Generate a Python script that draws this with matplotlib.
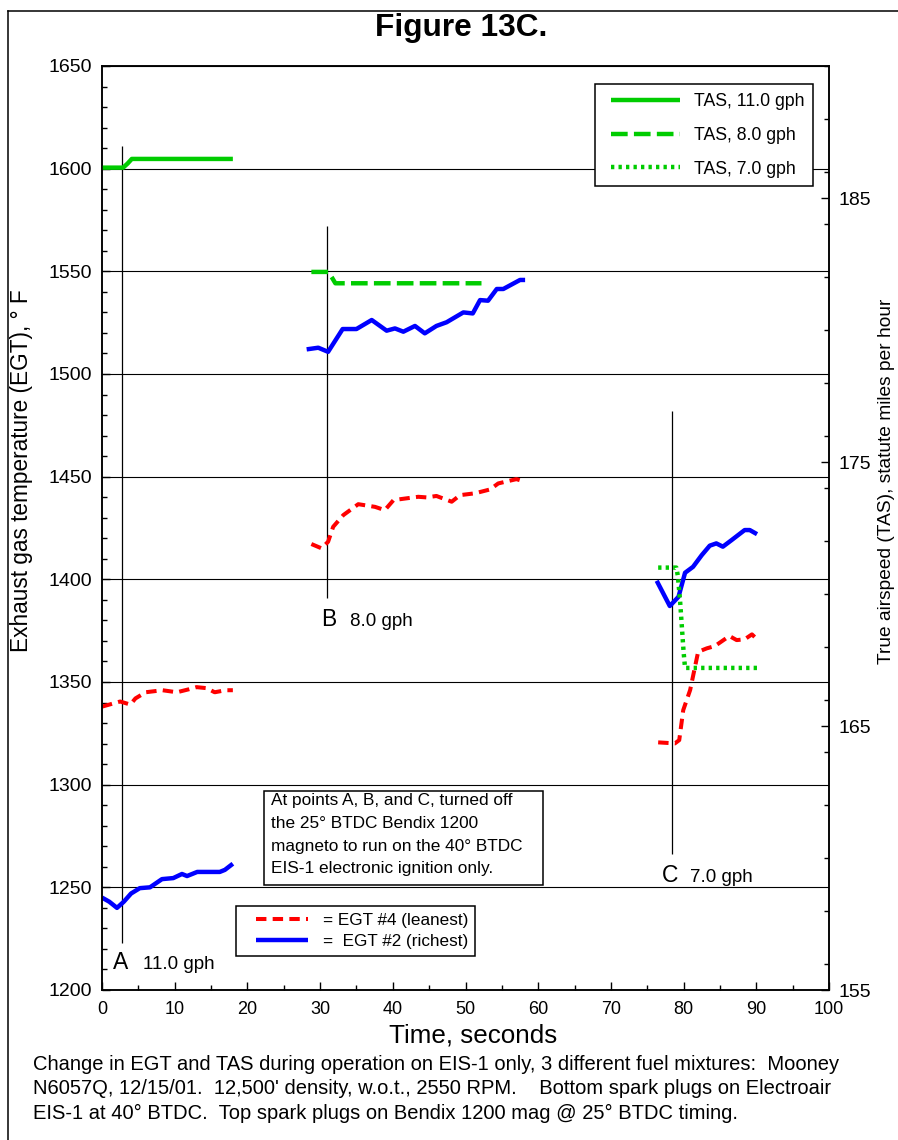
import matplotlib
matplotlib.use('Agg')
import matplotlib.pyplot as plt
from matplotlib.ticker import MultipleLocator
from matplotlib.legend_handler import HandlerLine2D
from matplotlib.lines import Line2D
from matplotlib.patches import Rectangle

plt.rcParams['font.family'] = ['Liberation Sans', 'DejaVu Sans']
plt.rcParams['lines.scale_dashes'] = False

# ---------------- data ----------------
# EGT #2 (richest), blue
egt2_a_t = [0, 1, 2.06, 3, 4, 5.2, 6.6, 8.25, 9.8, 11, 11.7, 13.1, 16.2, 16.9, 18]
egt2_a = [1245, 1243, 1240, 1243, 1247, 1249.6, 1250, 1254, 1254.5, 1256.5, 1255.5, 1257.5, 1257.5, 1258.5, 1261.5]
egt2_b_t = [28.15, 29.75, 31.1, 33.1, 35.0, 37.1, 39.15, 40.3, 41.45, 43.05, 44.4, 46.0, 47.4,
            49.7, 51.0, 52.0, 53.1, 54.3, 55.2, 57.5, 58.2]
egt2_b = [1512, 1512.8, 1510.8, 1521.9, 1521.9, 1526.3, 1521.1, 1522.2, 1520.6, 1523.4, 1519.8,
          1523.4, 1525.2, 1530.0, 1529.5, 1536, 1535.7, 1541.4, 1541.4, 1545.8, 1545.8]
egt2_c_t = [76.3, 78.1, 79.3, 80.2, 81.3, 82.5, 83.6, 84.5, 85.4, 86.6, 88.4, 89.1, 90.1]
egt2_c = [1399.3, 1387, 1391.5, 1403.2, 1406.1, 1411.8, 1416.4, 1417.5, 1415.9, 1419.1, 1424.0, 1424.0, 1422]

# EGT #4 (leanest), red
egt4_a_t = [0, 2.5, 3.9, 4.6, 6, 8.3, 10.3, 12, 13, 14.4, 15.5, 17, 18]
egt4_a = [1338, 1340.5, 1339, 1342, 1345, 1346, 1345, 1346.5, 1347.5, 1347, 1345, 1346, 1346]
egt4_b_t = [28.8, 30.2, 31.1, 31.8, 33.2, 35.25, 37.55, 38.9, 40.1, 43.5, 44.65, 46.0, 48.1,
            49.25, 51.3, 53.4, 54.5, 57.0, 58.2]
egt4_b = [1417.2, 1415.1, 1418.3, 1425.6, 1431.3, 1436.6, 1435.3, 1433.7, 1438.6, 1440.2, 1439.9,
          1440.6, 1437.8, 1441.0, 1441.9, 1443.8, 1446.7, 1448.8, 1447.5]
egt4_c_t = [76.5, 78.8, 79.4, 79.95, 80.9, 82.0, 83.2, 84.3, 86.3, 87.3, 88.4, 89.4, 90.3]
egt4_c = [1320.6, 1320.1, 1321.7, 1336.3, 1346.1, 1364.7, 1366.4, 1367.5, 1372.4, 1370.4, 1370.8, 1373.2, 1370.1]

# TAS (right axis, mph)
tas11_t = [0, 1, 2, 2.9, 3.5, 4.1, 6, 8, 10, 12, 14, 16, 18]
tas11 = [186.15, 186.15, 186.15, 186.15, 186.3, 186.48, 186.48, 186.48, 186.48, 186.48, 186.48, 186.48, 186.48]
tas8_t = [28.8, 30, 31.1, 31.6, 32.1, 35, 40, 45, 50, 52.2]
tas8 = [182.2, 182.2, 182.2, 182.0, 181.77, 181.77, 181.77, 181.77, 181.77, 181.77]
tas7_t = [76.5, 77.5, 79.0, 79.2, 79.5, 79.8, 80.0, 80.2, 81.5, 84, 86, 88, 90.3]
tas7 = [171.0, 171.0, 171.0, 170.7, 169.8, 168.6, 167.8, 167.2, 167.2, 167.2, 167.2, 167.2, 167.2]

# event markers A, B, C
marker_t = [2.8, 31.0, 78.45]
marker_lo = [1223, 1391, 1266]
marker_hi = [1611, 1572, 1482]
marker_letters = ['A', 'B', 'C']
marker_rates = ['11.0 gph', '8.0 gph', '7.0 gph']

tas_labels = ['TAS, 11.0 gph', 'TAS, 8.0 gph', 'TAS, 7.0 gph']
egt_labels = ['= EGT #4 (leanest)', '=  EGT #2 (richest)']

note_lines = ['At points A, B, and C, turned off',
              'the 25\u00b0 BTDC Bendix 1200',
              'magneto to run on the 40\u00b0 BTDC',
              'EIS-1 electronic ignition only.']
caption_lines = [
    'Change in EGT and TAS during operation on EIS-1 only, 3 different fuel mixtures:  Mooney',
    "N6057Q, 12/15/01.  12,500' density, w.o.t., 2550 RPM.    Bottom spark plugs on Electroair",
    'EIS-1 at 40\u00b0 BTDC.  Top spark plugs on Bendix 1200 mag @ 25\u00b0 BTDC timing.',
]

# ---------------- layout ----------------
W, H = 898, 1140
L, R, T, B = 102, 829, 66, 990


def fx(p):
    return p / W


def fy(p):
    return 1 - p / H


def axx(p):
    return (p - L) / (R - L)


def axy(p):
    return (B - p) / (B - T)


fig = plt.figure(figsize=(W / 100, H / 100), dpi=100)
ax = fig.add_axes([fx(L), fy(B), (R - L) / W, (B - T) / H])
ax2 = ax.twinx()

RED = '#ff0000'
BLUE = '#0000ff'
GREEN = '#00cc00'

ax.set_xlim(0, 100)
ax.set_ylim(1200, 1650)
ax2.set_ylim(155, 190)

ax.xaxis.set_major_locator(MultipleLocator(10))
ax.xaxis.set_minor_locator(MultipleLocator(5))
ax.yaxis.set_major_locator(MultipleLocator(50))
ax.yaxis.set_minor_locator(MultipleLocator(10))
ax2.set_yticks([155, 165, 175, 185])
ax2.yaxis.set_minor_locator(MultipleLocator(2))

ax.yaxis.grid(True, which='major', color='black', lw=0.8)

for a in (ax, ax2):
    for s in a.spines.values():
        s.set_linewidth(1.1)

ax.tick_params(axis='both', which='both', direction='in', top=False, right=False, width=1)
ax.tick_params(which='major', length=6)
ax.tick_params(which='minor', length=3.6)
ax.tick_params(axis='y', labelsize=14, pad=7)
ax.tick_params(axis='x', labelsize=13, pad=8)
ax2.tick_params(axis='y', which='both', direction='in', width=1, labelsize=14, pad=6.5)
ax2.tick_params(axis='y', which='major', length=6)
ax2.tick_params(axis='y', which='minor', length=3.6)

# markers
ax.vlines(marker_t, marker_lo, marker_hi, color='black', lw=0.9)

# EGT lines
red_ls = (0, (7.5, 4.5))
red_kw = dict(color=RED, lw=2.9, linestyle=red_ls, dash_capstyle='butt')
blue_kw = dict(color=BLUE, lw=3.2, solid_capstyle='butt', solid_joinstyle='round')
r1, = ax.plot(egt4_a_t, egt4_a, **red_kw)
ax.plot(egt4_b_t, egt4_b, **red_kw)
ax.plot(egt4_c_t, egt4_c, **red_kw)
b1, = ax.plot(egt2_a_t, egt2_a, **blue_kw)
ax.plot(egt2_b_t, egt2_b, **blue_kw)
ax.plot(egt2_c_t, egt2_c, **blue_kw)

# TAS lines
g11, = ax2.plot(tas11_t, tas11, color=GREEN, lw=3.2, solid_capstyle='butt')
g8, = ax2.plot(tas8_t, tas8, color=GREEN, lw=3.2, linestyle=(0, (12, 4.5)), dash_capstyle='butt')
g7, = ax2.plot(tas7_t, tas7, color=GREEN, lw=3.2, linestyle=(0, (2.4, 3.0)), dash_capstyle='butt')

# marker labels
letter_pos = [(1.51, 1210.2, 5.64), (30.12, 1377.3, 34.1), (77.03, 1252.6, 80.9)]
for (lx, ly, rx), letter, rate in zip(letter_pos, marker_letters, marker_rates):
    ax.text(lx, ly, letter, fontsize=16.5, va='baseline', ha='left')
    ax.text(rx, ly, rate, fontsize=13.5, va='baseline', ha='left')

# legends
fs1 = 12.7
fpx1 = fs1 * 100 / 72
bp1 = 8.9
mp1 = 608 - 592 - bp1
leg_tas = ax2.legend([g11, g8, g7], tas_labels, loc='upper right',
                     bbox_to_anchor=(axx(813.3), axy(84)), bbox_transform=ax2.transAxes,
                     borderaxespad=0, fancybox=False, edgecolor='black', framealpha=1,
                     fontsize=fs1, numpoints=2, borderpad=bp1 / fpx1,
                     handlelength=(69 + 2 * mp1) / fpx1,
                     handletextpad=(691 - 677 - mp1) / fpx1,
                     labelspacing=(33.5 - 16.7) / fpx1, handleheight=0.7,
                     handler_map={Line2D: HandlerLine2D(marker_pad=mp1 / fpx1)})
leg_tas.get_frame().set_linewidth(1.1)
ax2.add_artist(leg_tas)

fs2 = 12.3
fpx2 = fs2 * 100 / 72
bp2 = 6.5
mp2 = 256 - 236 - bp2
leg_egt = ax2.legend([r1, b1], egt_labels, loc='upper left',
                     bbox_to_anchor=(axx(236), axy(906)), bbox_transform=ax2.transAxes,
                     borderaxespad=0, fancybox=False, edgecolor='black', framealpha=1,
                     fontsize=fs2, numpoints=2, borderpad=bp2 / fpx2,
                     handlelength=(52 + 2 * mp2) / fpx2,
                     handletextpad=max(0.0, (323 - 308 - mp2) / fpx2),
                     labelspacing=(21 - 14.5) / fpx2, handleheight=0.7,
                     handler_map={Line2D: HandlerLine2D(marker_pad=mp2 / fpx2)})
leg_egt.get_frame().set_linewidth(1.1)

# note box
ax2.add_patch(Rectangle((axx(264.3), axy(885.3)), axx(543.3) - axx(264.3), axy(790.7) - axy(885.3),
                        transform=ax2.transAxes, fc='white', ec='black', lw=1.1, zorder=4))
for yb, line in zip([805, 827.5, 850.5, 873.3], note_lines):
    ax2.text(axx(270.7), axy(yb), line, transform=ax2.transAxes, fontsize=12.4,
             va='baseline', ha='left', zorder=5)

# axis labels
ax.set_xlabel('Time, seconds', fontsize=18.7, va='center')
ax.xaxis.set_label_coords(axx(473), axy(1036))
ax.set_ylabel('Exhaust gas temperature (EGT), \u00b0 F', fontsize=16.3, va='center', ha='center')
ax.yaxis.set_label_coords(axx(22), axy(471))
ax2.set_ylabel('True airspeed (TAS), statute miles per hour', fontsize=13.8, rotation=90,
               va='center', ha='center')
ax2.yaxis.set_label_coords(axx(886.5), axy(481))

# title
fig.text(fx(461.5), fy(28), 'Figure 13C.', fontsize=22.8, fontweight='bold', ha='center', va='center')

# caption
for yc, line in zip([1065, 1089, 1113], caption_lines):
    fig.text(fx(33), fy(yc), line, fontsize=14.5, ha='left', va='center')

# outer frame (partially visible)
fig.add_artist(Line2D([fx(8.3), fx(8.3)], [0, fy(10.7)], color='black', lw=1.1))
fig.add_artist(Line2D([fx(8.3), 1], [fy(10.7), fy(10.7)], color='black', lw=1.1))

fig.savefig('out.png', dpi=100)
